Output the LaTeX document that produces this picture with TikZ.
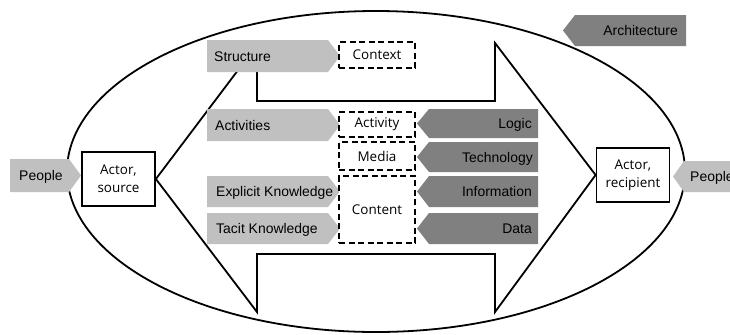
\documentclass[tikz,border=0pt]{standalone}
\usepackage{fontspec}
\setmainfont{Liberation Sans}
\newfontfamily\boxfont{Open Sans}
\usetikzlibrary{shapes.geometric}
\definecolor{lgray}{RGB}{192,192,192}
\definecolor{dgray}{RGB}{128,128,128}
% right-pointing label arrow: name, x-left, x-tip, y-top, y-bottom, text, colour, text offset
\newcommand\rarr[8]{%
  \fill[#7] (#2,#4) -- (#3-12,#4) -- (#3,{(#4+#5)/2}) -- (#3-12,#5) -- (#2,#5) -- cycle;
  \node[lbl, anchor=base west] (#1) at (#2+#8, {(#4+#5)/2+5}) {#6};}
% left-pointing label arrow: name, x-tip, x-right, y-top, y-bottom, text, colour, text offset
\newcommand\larr[8]{%
  \fill[#7] (#2,{(#4+#5)/2}) -- (#2+12,#4) -- (#3,#4) -- (#3,#5) -- (#2+12,#5) -- cycle;
  \node[lbl, anchor=base east] (#1) at (#3-#8, {(#4+#5)/2+5}) {#6};}
\begin{document}
\begin{tikzpicture}[x=1bp,y=-1bp,
  lbl/.style={inner sep=0pt, font=\fontsize{14}{16}\selectfont},
  dbox/.style={draw, dashed, dash pattern=on 6bp off 3.5bp, line width=1.1bp, fill=white,
    minimum width=76bp, inner sep=0pt, font=\boxfont\fontsize{13.5}{17}\selectfont},
  actor/.style={draw, line width=1.8bp, fill=white, minimum width=73bp, minimum height=54bp,
    inner sep=0pt, align=center, font=\boxfont\fontsize{13.5}{18}\selectfont},
  thick line/.style={line width=1.8bp, line join=miter}]
\useasboundingbox (0,0) rectangle (730,334);
\clip (0,0) rectangle (730,334);
\fill[white] (0,0) rectangle (730,334);

% outer ellipse
\node[ellipse, draw, line width=1.8bp, minimum width=618bp, minimum height=321bp, inner sep=0pt]
  (frame) at (376,171.5) {};

% actors
\node[actor] (src) at (118.5,179) {Actor,\\source};
\node[actor] (rcp) at (633,175) {Actor,\\recipient};

% big arrow
\coordinate (tl) at (257,45);
\coordinate (tr) at (495,43);
\coordinate (bl) at (257,312);
\coordinate (br) at (495,312);
\draw[thick line] (src.east) -- (tl) -- (257,101) -- (495,101) -- (tr) -- (rcp.west)
  -- (br) -- (495,254) -- (257,254) -- (bl) -- cycle;

% left light arrows
\rarr{structure}{207}{340}{40}{72}{Structure}{lgray}{7}
\rarr{activities}{207}{340}{109}{141}{Activities}{lgray}{8}
\rarr{explicit}{207}{340}{176}{207}{Explicit Knowledge}{lgray}{9}
\rarr{tacit}{207}{340}{213}{244}{Tacit Knowledge}{lgray}{9}
\rarr{peopleL}{10}{81}{159}{192}{People}{lgray}{9}

% right dark arrows
\larr{logic}{417}{538}{109}{138}{Logic}{dgray}{6}
\larr{technology}{417}{538}{142}{172}{Technology}{dgray}{5}
\larr{information}{417}{538}{176}{207}{Information}{dgray}{6}
\larr{data}{417}{538}{213}{244}{Data}{dgray}{6}
\larr{architecture}{563}{686}{15}{46}{Architecture}{dgray}{8}
\fill[lgray] (673,176.5) -- (684,161) -- (740,161) -- (740,192) -- (684,192) -- cycle;
\node[lbl, anchor=base west] (peopleR) at (690,181.5) {People};

% dashed boxes
\node[dbox, minimum height=26bp] (context) at (377,55) {Context};
\node[dbox, minimum height=25bp] (activity) at (377,124.5) {Activity};
\node[dbox, minimum height=28bp] (media) at (377,156) {Media};
\node[dbox, minimum height=67bp] (content) at (377,209.5) {Content};
\end{tikzpicture}
\end{document}
